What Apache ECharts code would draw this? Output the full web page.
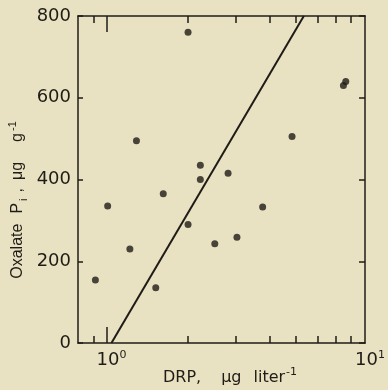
<!DOCTYPE html>
<html>
<head>
<meta charset="utf-8">
<script src="https://cdn.jsdelivr.net/npm/echarts@6/dist/echarts.min.js"></script>
<style>
  html, body { margin: 0; padding: 0; background: #e9e2c2; }
  #main { width: 388px; height: 390px; }
</style>
</head>
<body>
<div id="main"></div>
<script>
// DRP (ug/liter) vs oxalate Pi (ug/g)
const drp = [0.91, 1.01, 1.22, 1.29, 1.52, 1.62, 2.0, 2.0, 2.22, 2.22, 2.51, 2.81, 3.03, 3.77, 4.84, 7.49, 7.64];
const oxalatePi = [154, 335, 230, 495, 135, 365, 760, 290, 435, 400, 243, 415, 259, 333, 505, 630, 640];
// fitted line, read at the frame edges
const fitX = [1.043, 5.35];
const fitY = [0, 800];

const minorTicks = [0.9, 2, 3, 4, 5, 6, 7, 8];
const majorTicks = [1];
const xLabelAt = [1, 9];
const xLabelExp = ['0', '1'];

const ink = '#1f1c17';
const font = 'Liberation Sans';
const tickFont = 'DejaVu Sans';

let points = [];
for (let i = 0; i < drp.length; i++) {
  points.push([drp[i], oxalatePi[i]]);
}
let fit = [];
for (let i = 0; i < fitX.length; i++) {
  fit.push([fitX[i], fitY[i]]);
}

const xBase = {
  type: 'log',
  min: 0.785,
  max: 9.0,
  splitLine: { show: false },
  minorTick: { show: false }
};

var option = {
  backgroundColor: '#e9e2c2',
  animation: false,
  grid: { left: 78, right: 18, top: 16, bottom: 47 },
  xAxis: [
    Object.assign({}, xBase, {
      position: 'bottom',
      axisLine: { show: true, lineStyle: { color: ink, width: 1.5 } },
      axisTick: { show: true, inside: true, length: 7, customValues: minorTicks, lineStyle: { color: ink, width: 1.5 } },
      axisLabel: {
        show: true,
        customValues: xLabelAt,
        margin: 7,
        padding: [0, 0, 0, 10],
        formatter: function (v, idx) {
          let k = xLabelAt.indexOf(Math.round(v));
          if (k < 0) k = idx;
          return '{b|10}{s|' + xLabelExp[k] + '}';
        },
        rich: {
          b: { fontFamily: tickFont, fontSize: 18, color: ink, lineHeight: 20 },
          s: { fontFamily: tickFont, fontSize: 11, color: ink, verticalAlign: 'top', lineHeight: 20 }
        }
      }
    }),
    Object.assign({}, xBase, {
      position: 'bottom',
      axisLine: { show: false },
      axisTick: { show: true, inside: true, length: 16, customValues: majorTicks, lineStyle: { color: ink, width: 1.5 } },
      axisLabel: { show: false }
    }),
    Object.assign({}, xBase, {
      position: 'top',
      axisLine: { show: true, lineStyle: { color: ink, width: 1.5 } },
      axisTick: { show: true, inside: true, length: 7, customValues: minorTicks, lineStyle: { color: ink, width: 1.5 } },
      axisLabel: { show: false }
    }),
    Object.assign({}, xBase, {
      position: 'top',
      axisLine: { show: false },
      axisTick: { show: true, inside: true, length: 16, customValues: majorTicks, lineStyle: { color: ink, width: 1.5 } },
      axisLabel: { show: false }
    })
  ],
  yAxis: [
    {
      type: 'value',
      position: 'left',
      min: 0,
      max: 800,
      interval: 200,
      splitLine: { show: false },
      axisLine: { show: true, lineStyle: { color: ink, width: 1.5 } },
      axisTick: { show: true, inside: true, length: 5, lineStyle: { color: ink, width: 1.5 } },
      axisLabel: { fontFamily: tickFont, fontSize: 18, color: ink, margin: 7 }
    },
    {
      type: 'value',
      position: 'right',
      min: 0,
      max: 800,
      interval: 200,
      splitLine: { show: false },
      axisLine: { show: true, lineStyle: { color: ink, width: 1.5 } },
      axisTick: { show: true, inside: true, length: 6, lineStyle: { color: ink, width: 1.5 } },
      axisLabel: { show: false }
    }
  ],
  graphic: [
    {
      // y axis title, reads bottom to top
      type: 'text',
      x: 18,
      y: 200,
      rotation: Math.PI / 2,
      style: {
        text: '{n|Oxalate}{p|P}{sub|i}{c|,}{m|μg}{g|g}{sup|-1}',
        align: 'center',
        verticalAlign: 'middle',
        fill: ink,
        rich: {
          n: { fontFamily: font, fontSize: 16, fill: ink, lineHeight: 22 },
          p: { fontFamily: font, fontSize: 16, fill: ink, lineHeight: 22, padding: [0, 0, 0, 10] },
          sub: { fontFamily: font, fontSize: 11, fill: ink, verticalAlign: 'bottom', lineHeight: 22, padding: [0, 0, 0, 2] },
          c: { fontFamily: font, fontSize: 16, fill: ink, lineHeight: 22, padding: [0, 0, 0, 6] },
          m: { fontFamily: font, fontSize: 16, fill: ink, lineHeight: 22, padding: [0, 0, 0, 8] },
          g: { fontFamily: font, fontSize: 16, fill: ink, lineHeight: 22, padding: [0, 0, 0, 20] },
          sup: { fontFamily: font, fontSize: 11, fill: ink, verticalAlign: 'top', lineHeight: 22, padding: [0, 0, 0, 2] }
        }
      }
    },
    {
      // x axis title
      type: 'text',
      x: 163,
      y: 378,
      style: {
        text: '{n|DRP,}{m|μg}{l|liter}{sup|-1}',
        align: 'left',
        verticalAlign: 'middle',
        fill: ink,
        rich: {
          n: { fontFamily: tickFont, fontSize: 16, fill: ink, lineHeight: 22 },
          m: { fontFamily: tickFont, fontSize: 16, fill: ink, lineHeight: 22, padding: [0, 0, 0, 20] },
          l: { fontFamily: tickFont, fontSize: 16, fill: ink, lineHeight: 22, padding: [0, 0, 0, 12] },
          sup: { fontFamily: tickFont, fontSize: 11, fill: ink, verticalAlign: 'top', lineHeight: 22, padding: [0, 0, 0, 1] }
        }
      }
    }
  ],
  series: [
    {
      type: 'scatter',
      xAxisIndex: 0,
      yAxisIndex: 0,
      symbolSize: 7,
      itemStyle: { color: ink },
      data: points
    },
    {
      type: 'line',
      xAxisIndex: 0,
      yAxisIndex: 0,
      showSymbol: false,
      lineStyle: { color: ink, width: 2 },
      data: fit
    }
  ]
};

const myChart = echarts.init(document.getElementById('main'));
myChart.setOption(option);
</script>
</body>
</html>
